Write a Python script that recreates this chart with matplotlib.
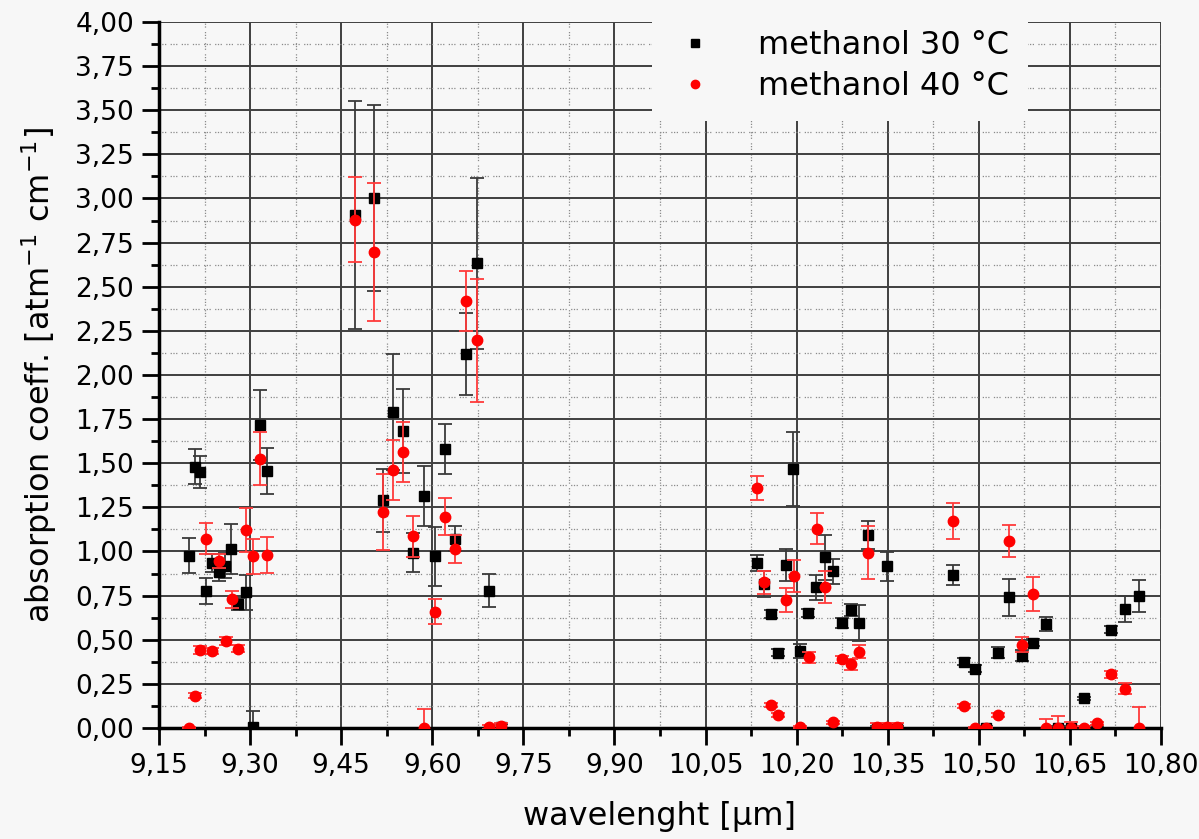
import matplotlib
matplotlib.use("Agg")
import matplotlib.pyplot as plt
from matplotlib.lines import Line2D
from matplotlib.ticker import MultipleLocator, FuncFormatter

# methanol 30 °C  (black squares)
wl_30 = [9.199, 9.209, 9.217, 9.228, 9.238, 9.249, 9.259, 9.269, 9.280, 9.293,
         9.304, 9.317, 9.328,
         9.472, 9.504, 9.519, 9.535, 9.551, 9.568, 9.587, 9.604, 9.621, 9.638,
         9.656, 9.674, 9.694, 9.713,
         10.134, 10.146, 10.158, 10.169, 10.182, 10.194, 10.206, 10.219, 10.232,
         10.247, 10.260, 10.274, 10.290, 10.303, 10.318, 10.332, 10.349, 10.365,
         10.458, 10.476, 10.493, 10.512, 10.532, 10.550, 10.571, 10.590, 10.610,
         10.631, 10.652, 10.674, 10.695, 10.718, 10.740, 10.763]
abs_30 = [0.977, 1.481, 1.451, 0.777, 0.934, 0.881, 0.919, 1.015, 0.702, 0.768,
          0.006, 1.717, 1.455,
          2.905, 3.002, 1.289, 1.790, 1.683, 0.992, 1.313, 0.972, 1.580, 1.073,
          2.119, 2.632, 0.778, 0.005,
          0.934, 0.817, 0.646, 0.427, 0.924, 1.469, 0.435, 0.652, 0.798,
          0.966, 0.887, 0.594, 0.667, 0.595, 1.094, 0.0, 0.915, 0.0,
          0.868, 0.376, 0.335, 0.0, 0.427, 0.741, 0.410, 0.484, 0.588,
          0.0, 0.0, 0.168, 0.0, 0.556, 0.675, 0.750]
err_30 = [0.10, 0.10, 0.09, 0.075, 0.05, 0.05, 0.07, 0.14, 0.035, 0.10,
          0.09, 0.20, 0.13,
          0.645, 0.525, 0.18, 0.33, 0.24, 0.11, 0.17, 0.165, 0.14, 0.07,
          0.23, 0.485, 0.095, 0.02,
          0.045, 0.075, 0.02, 0.02, 0.09, 0.21, 0.04, 0.025, 0.07,
          0.13, 0.07, 0.03, 0.035, 0.10, 0.08, 0.01, 0.08, 0.01,
          0.057, 0.02, 0.02, 0.01, 0.03, 0.105, 0.03, 0.02, 0.04,
          0.01, 0.01, 0.01, 0.01, 0.02, 0.075, 0.09]

# methanol 40 °C  (red circles)
wl_40 = [9.199, 9.209, 9.217, 9.228, 9.238, 9.248, 9.260, 9.270, 9.280, 9.293,
         9.304, 9.317, 9.328,
         9.472, 9.504, 9.519, 9.535, 9.551, 9.568, 9.587, 9.604, 9.621, 9.638,
         9.656, 9.674, 9.694, 9.713,
         10.135, 10.146, 10.157, 10.169, 10.182, 10.195, 10.206, 10.220, 10.233,
         10.247, 10.260, 10.274, 10.289, 10.303, 10.318, 10.332, 10.349, 10.365,
         10.458, 10.476, 10.493, 10.512, 10.531, 10.550, 10.571, 10.590, 10.610,
         10.631, 10.652, 10.674, 10.695, 10.718, 10.740, 10.763]
abs_40 = [0.0, 0.183, 0.442, 1.073, 0.436, 0.946, 0.493, 0.729, 0.449, 1.124,
          0.973, 1.526, 0.980,
          2.879, 2.697, 1.224, 1.459, 1.566, 1.085, 0.0, 0.659, 1.198, 1.016,
          2.422, 2.196, 0.006, 0.010,
          1.359, 0.826, 0.130, 0.074, 0.726, 0.860, 0.004, 0.400, 1.130,
          0.801, 0.032, 0.389, 0.361, 0.433, 0.992, 0.008, 0.008, 0.008,
          1.172, 0.125, 0.0, 0.0, 0.074, 1.059, 0.473, 0.760, 0.0,
          0.0, 0.0, 0.0, 0.026, 0.304, 0.223, 0.0]
err_40 = [0.005, 0.015, 0.02, 0.088, 0.015, 0.04, 0.02, 0.05, 0.02, 0.125,
          0.10, 0.15, 0.10,
          0.24, 0.39, 0.215, 0.17, 0.17, 0.115, 0.11, 0.07, 0.105, 0.08,
          0.17, 0.35, 0.01, 0.02,
          0.07, 0.066, 0.01, 0.01, 0.07, 0.09, 0.005, 0.03, 0.09,
          0.09, 0.01, 0.02, 0.03, 0.035, 0.15, 0.02, 0.02, 0.02,
          0.10, 0.01, 0.005, 0.005, 0.01, 0.09, 0.04, 0.095, 0.05,
          0.07, 0.036, 0.01, 0.01, 0.02, 0.03, 0.117]

BG = "#f7f7f7"

plt.rcParams["font.family"] = ["DejaVu Sans"]

fig = plt.figure(figsize=(11.99, 8.39), dpi=100, facecolor=BG)
ax = fig.add_axes([0.1326, 0.1323, 0.8357, 0.8415], facecolor=BG)

ax.errorbar(wl_30, abs_30, yerr=err_30, fmt="s", color="black", ms=7.5,
            ecolor="#3a3a3a", elinewidth=1.3, capsize=5, capthick=1.3, zorder=3)
ax.errorbar(wl_40, abs_40, yerr=err_40, fmt="o", color="red", ms=7.5,
            ecolor="#ff3a3a", elinewidth=1.3, capsize=5, capthick=1.3, zorder=4)

ax.set_xlim(9.15, 10.80)
ax.set_ylim(0, 4.0)
ax.xaxis.set_major_locator(MultipleLocator(0.15))
ax.xaxis.set_minor_locator(MultipleLocator(0.075))
ax.yaxis.set_major_locator(MultipleLocator(0.25))
ax.yaxis.set_minor_locator(MultipleLocator(0.125))
comma = FuncFormatter(lambda v, p: f"{v:.2f}".replace(".", ","))
ax.xaxis.set_major_formatter(comma)
ax.yaxis.set_major_formatter(comma)

ax.grid(which="major", color="#404040", linewidth=1.4, linestyle="-", zorder=0)
ax.grid(which="minor", color="#8a8a8a", linewidth=0.9,
        linestyle=(0, (1, 1.2, 1, 1.2, 1, 3.5)), zorder=0)
ax.set_axisbelow(True)

for s in ("top", "right"):
    ax.spines[s].set_visible(False)
for s in ("left", "bottom"):
    ax.spines[s].set_linewidth(2.5)
    ax.spines[s].set_zorder(2)

ax.tick_params(which="major", direction="out", length=12, width=2,
               labelsize=19, pad=6)
ax.tick_params(which="minor", direction="out", length=6, width=2)

ax.set_xlabel("wavelenght [μm]", fontsize=23, labelpad=16)
ax.set_ylabel("absorption coeff. [atm$^{-1}$ cm$^{-1}$]", fontsize=23, labelpad=12)

handles = [Line2D([], [], marker="s", color="black", linestyle="none", ms=6),
           Line2D([], [], marker="o", color="red", linestyle="none", ms=6)]
leg = ax.legend(handles, ["methanol 30 °C", "methanol 40 °C"], fontsize=23,
                loc="center", bbox_to_anchor=(840 / 1199, 1 - 66 / 839),
                bbox_transform=fig.transFigure, frameon=True, framealpha=1,
                facecolor=BG, edgecolor="none", handletextpad=1.2,
                handlelength=1.5, labelspacing=0.3, borderpad=0.6)

fig.savefig("out.png", dpi=100, facecolor=BG)
